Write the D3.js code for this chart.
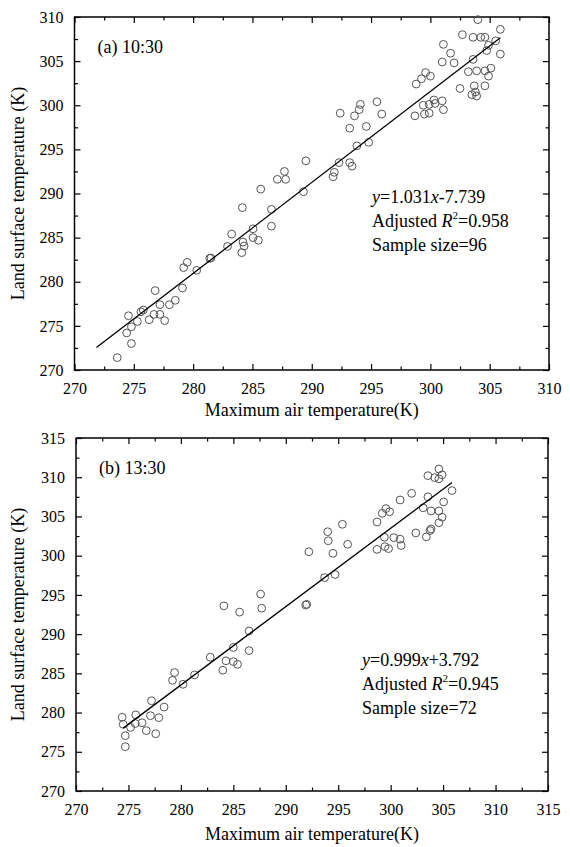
<!DOCTYPE html>
<html><head><meta charset="utf-8">
<script src="https://cdn.jsdelivr.net/npm/d3@7/dist/d3.min.js"></script>
<style>
body{margin:0;background:#fff;}
svg{display:block;font-family:"Liberation Serif","Times New Roman",serif;}
</style></head><body>
<svg id="c" width="570" height="847"></svg>
<script>
// ---- data ----
const topX = [273.6,274.8,274.4,274.55,274.8,275.3,275.6,275.8,276.3,276.8,276.7,277.2,277.2,277.6,278.0,278.5,279.1,279.2,279.5,280.3,281.4,281.5,284.1,
  282.9,283.25,284.2,284.3,284.15,285.05,285.05,285.5,285.7,286.6,286.6,287.1,287.7,287.8,289.3,289.5,
  291.8,291.9,292.3,293.2,293.4,293.2,294.6,293.8,294.8,
  292.4,293.6,294.0,294.1,295.5,295.9,298.7,298.8,299.25,299.6,300.0,299.4,299.5,299.9,299.9,300.4,300.3,301.0,301.1,301.0,301.1,301.7,302.0,302.5,302.7,303.2,303.6,303.6,303.9,303.7,303.8,303.5,303.9,304.0,304.25,304.6,304.6,304.6,304.9,305.1,304.75,304.9,305.5,305.9,305.9];
const topY = [271.4,273.0,274.2,276.15,274.9,275.5,276.6,276.8,275.7,279.0,276.3,276.3,277.4,275.6,277.4,277.9,279.3,281.6,282.2,281.3,282.65,282.7,283.3,
  284.0,285.4,284.5,284.05,288.4,286.0,285.0,284.7,290.5,288.2,286.3,291.6,292.5,291.6,290.2,293.7,
  291.9,292.4,293.5,293.5,293.1,297.4,297.6,295.4,295.8,
  299.1,298.8,299.5,300.1,300.4,299.0,298.8,302.4,303.0,303.7,303.3,300.0,299.0,299.1,300.1,300.2,300.6,300.5,299.5,304.9,306.9,305.9,304.8,301.9,308.0,303.8,307.7,305.2,303.9,302.2,301.5,301.2,301.05,309.7,307.7,307.7,303.9,302.2,303.3,304.2,306.2,306.8,307.3,308.6,305.8];
const botX = [274.4,274.5,274.7,274.7,275.2,275.7,275.65,276.3,276.7,277.1,277.2,277.6,277.9,278.4,279.2,280.2,
  279.4,281.3,282.8,284.0,284.3,284.1,285.0,285.0,285.4,285.6,286.5,286.5,287.6,287.7,291.9,292.0,292.2,
  293.7,294.7,294.05,294.0,294.5,295.4,295.9,298.7,298.7,299.2,299.55,299.9,299.4,299.45,299.8,300.3,300.9,301.0,300.9,302.0,302.4,303.1,303.55,303.4,303.75,303.85,303.85,303.55,304.2,304.6,304.9,304.6,304.6,304.9,304.6,305.05,305.85];
const botY = [279.4,278.5,277.05,275.65,278.1,279.7,278.6,278.7,277.7,279.6,281.5,277.3,279.35,280.7,284.1,283.6,
  285.1,284.8,287.05,285.4,286.6,293.6,288.3,286.5,286.15,292.8,290.4,287.9,295.1,293.3,293.7,293.8,300.5,
  297.2,297.6,301.9,303.05,300.3,304.0,301.45,300.8,304.3,305.4,306.0,305.6,302.35,301.15,300.9,302.3,302.1,301.3,307.1,307.95,302.9,306.1,307.5,302.4,303.2,303.4,305.7,310.2,309.95,311.05,310.3,309.8,305.7,304.9,304.2,306.85,308.3];
const topFit = {slope:1.031, intercept:-7.739, x0:271.85, x1:305.9};
const botFit = {slope:0.999, intercept:3.792, x0:274.5, x1:305.85};
const topXTicks = [270,275,280,285,290,295,300,305,310];
const topYTicks = [270,275,280,285,290,295,300,305,310];
const botXTicks = [270,275,280,285,290,295,300,305,310,315];
const botYTicks = [270,275,280,285,290,295,300,305,310,315];
const topLabel = "(a) 10:30";
const botLabel = "(b) 13:30";
const topStats = ["1.031","-7.739","0.958","96"];
const botStats = ["0.999","+3.792","0.945","72"];
const xTitle = "Maximum air temperature(K)";
const yTitle = "Land surface temperature (K)";

const svg = d3.select("#c");

function panel(cfg){
  const {L,R,T,B,xd,yd,xt,yt,xs,ys,fit,label,stats} = cfg;
  const g = svg.append("g");
  const x = d3.scaleLinear().domain(xd).range([L,R]);
  const y = d3.scaleLinear().domain(yd).range([B,T]);
  const minorX = d3.range(xd[0]+2.5, xd[1], 5);
  const minorY = d3.range(yd[0]+2.5, yd[1], 5);
  const styleAxis = sel => { sel.attr("font-family",null).attr("font-size",null); sel.select(".domain").remove(); sel.selectAll("line").attr("stroke","#000").attr("stroke-width",1.2); sel.selectAll("text").attr("font-family","Liberation Serif").attr("font-size",16).attr("fill","#000"); };
  // bottom
  g.append("g").attr("transform",`translate(0,${B})`).call(d3.axisBottom(x).tickValues(xt).tickSize(-6).tickPadding(13).tickFormat(d3.format("d"))).call(styleAxis);
  g.append("g").attr("transform",`translate(0,${B})`).call(d3.axisBottom(x).tickValues(minorX).tickSize(-3.5).tickFormat("")).call(styleAxis);
  // top mirror
  g.append("g").attr("transform",`translate(0,${T})`).call(d3.axisTop(x).tickValues(xt).tickSize(-6).tickFormat("")).call(styleAxis);
  g.append("g").attr("transform",`translate(0,${T})`).call(d3.axisTop(x).tickValues(minorX).tickSize(-3.5).tickFormat("")).call(styleAxis);
  // left
  g.append("g").attr("transform",`translate(${L},0)`).call(d3.axisLeft(y).tickValues(yt).tickSize(-6).tickPadding(11).tickFormat(d3.format("d"))).call(styleAxis);
  g.append("g").attr("transform",`translate(${L},0)`).call(d3.axisLeft(y).tickValues(minorY).tickSize(-3.5).tickFormat("")).call(styleAxis);
  // right mirror
  g.append("g").attr("transform",`translate(${R},0)`).call(d3.axisRight(y).tickValues(yt).tickSize(-6).tickFormat("")).call(styleAxis);
  g.append("g").attr("transform",`translate(${R},0)`).call(d3.axisRight(y).tickValues(minorY).tickSize(-3.5).tickFormat("")).call(styleAxis);
  // frame
  g.append("rect").attr("x",L).attr("y",T).attr("width",R-L).attr("height",B-T).attr("fill","none").attr("stroke","#000").attr("stroke-width",1.5);
  // points
  g.append("g").selectAll("circle").data(xs.map((v,i)=>[v,ys[i]])).join("circle")
    .attr("cx",d=>x(d[0])).attr("cy",d=>y(d[1])).attr("r",3.9)
    .attr("fill","none").attr("stroke","#555").attr("stroke-width",1);
  // fit line
  const line = d3.line().x(d=>x(d)).y(d=>y(fit.slope*d+fit.intercept));
  g.append("path").datum([fit.x0,fit.x1]).attr("d",line).attr("fill","none").attr("stroke","#000").attr("stroke-width",1.3);
  // panel label
  g.append("text").attr("x",L+23).attr("y",T+36).attr("font-size",18).text(label);
  // stats
  const sx = cfg.statX, sy = cfg.statY;
  const t1 = g.append("text").attr("x",sx).attr("y",sy).attr("font-size",18);
  t1.append("tspan").attr("font-style","italic").text("y");
  t1.append("tspan").text("="+stats[0]);
  t1.append("tspan").attr("font-style","italic").text("x");
  t1.append("tspan").text(stats[1]);
  const t2 = g.append("text").attr("x",sx).attr("y",sy+24).attr("font-size",18);
  t2.append("tspan").text("Adjusted ");
  t2.append("tspan").attr("font-style","italic").text("R");
  t2.append("tspan").attr("font-size",11).attr("dy",-8).text("2");
  t2.append("tspan").attr("dy",8).text("="+stats[2]);
  g.append("text").attr("x",sx).attr("y",sy+48).attr("font-size",18).text("Sample size="+stats[3]);
  // titles
  g.append("text").attr("x",(L+R)/2).attr("y",cfg.xTitleY).attr("text-anchor","middle").attr("font-size",18).text(xTitle);
  g.append("text").attr("transform",`translate(24,${(T+B)/2}) rotate(-90)`).attr("text-anchor","middle").attr("font-size",18).text(yTitle);
}

panel({L:74.5,R:549,T:17,B:370,xd:[270,310],yd:[270,310],xt:topXTicks,yt:topYTicks,xs:topX,ys:topY,fit:topFit,label:topLabel,stats:topStats,statX:372,statY:203,xTitleY:416});
panel({L:76,R:548,T:438,B:791,xd:[270,315],yd:[270,315],xt:botXTicks,yt:botYTicks,xs:botX,ys:botY,fit:botFit,label:botLabel,stats:botStats,statX:362,statY:666,xTitleY:840});
</script>
</body></html>
